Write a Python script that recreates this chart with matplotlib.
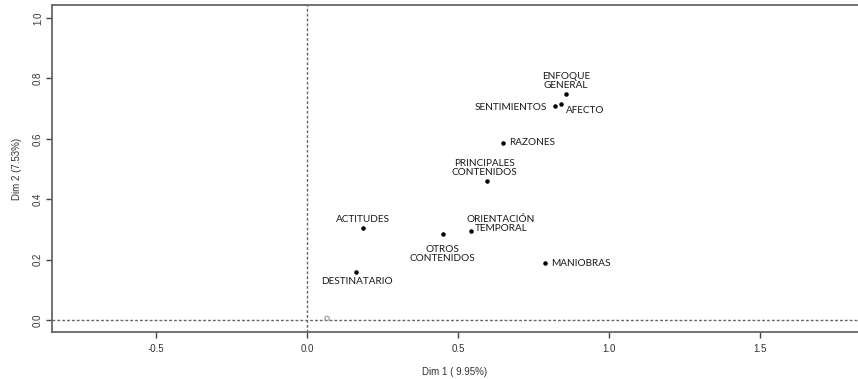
import matplotlib.pyplot as plt

# Coordenadas de las categorías en las dos primeras dimensiones
categorias = ['ENFOQUE\nGENERAL', 'AFECTO', 'SENTIMIENTOS', 'RAZONES',
              'PRINCIPALES\nCONTENIDOS', 'ACTITUDES', 'ORIENTACIÓN\nTEMPORAL',
              'OTROS\nCONTENIDOS', 'MANIOBRAS', 'DESTINATARIO']
dim1 = [0.857, 0.839, 0.820, 0.649, 0.595, 0.184, 0.542, 0.449, 0.788, 0.161]
dim2 = [0.747, 0.716, 0.708, 0.586, 0.459, 0.306, 0.294, 0.285, 0.188, 0.159]

# Variable suplementaria (círculo abierto)
sup_x = [0.066]
sup_y = [0.005]

# Desplazamiento de cada etiqueta (px) y alineación
offsets = [(0, 4), (5, -7), (-8, -1), (6, 0), (-2, 4), (0, 8), (30, 7), (0, -20), (6, 0), (1, -10)]
alineacion = [('center', 'bottom'), ('left', 'center'), ('right', 'center'), ('left', 'center'),
              ('center', 'bottom'), ('center', 'center'), ('center', 'center'),
              ('center', 'center'), ('left', 'center'), ('center', 'center')]

plt.rcParams['font.family'] = ['Liberation Sans', 'DejaVu Sans']

fig = plt.figure(figsize=(8.58, 3.79), dpi=100)
ax = fig.add_axes([52 / 858, 1 - 332 / 379, 1 - 52 / 858, (332 - 5) / 379])

ax.set_xlim(-0.845, 1.824)
ax.set_ylim(-0.04, 1.043)

ax.axhline(0, color='#666666', linestyle=(0, (2, 1.5)), linewidth=1.0, zorder=1)
ax.axvline(0, color='#666666', linestyle=(0, (2, 1.5)), linewidth=1.0, zorder=1)

ax.scatter(dim1, dim2, s=5, color='black', zorder=3)
ax.scatter(sup_x, sup_y, s=10, facecolors='none', edgecolors='#888888', linewidths=0.7, zorder=3)

for nombre, x, y, off, (ha, va) in zip(categorias, dim1, dim2, offsets, alineacion):
    ax.annotate(nombre, (x, y), xytext=off, textcoords='offset pixels',
                ha=ha, va=va, fontsize=7.2, color='#1a1a1a', family=['Lato', 'DejaVu Sans'],
                linespacing=1.0)

ax.set_xticks([-0.5, 0.0, 0.5, 1.0, 1.5])
ax.set_yticks([0.0, 0.2, 0.4, 0.6, 0.8, 1.0])
ax.set_xticklabels(['-0.5', '0.0', '0.5', '1.0', '1.5'])
ax.set_yticklabels(['0.0', '0.2', '0.4', '0.6', '0.8', '1.0'], rotation=90, va='center')
ax.tick_params(labelsize=7, colors='#444444', labelcolor='#333333', length=4, width=1)
ax.tick_params(axis='x', pad=5)
ax.tick_params(axis='y', pad=2.5)

for lado in ['left', 'bottom', 'top']:
    ax.spines[lado].set_color('#666666')
    ax.spines[lado].set_linewidth(1.3)
ax.spines['right'].set_visible(False)

ax.set_xlabel('Dim 1 ( 9.95%)', fontsize=7, color='#333333', labelpad=9)
ax.set_ylabel('Dim 2 (7.53%)', fontsize=7, color='#333333', labelpad=8)

fig.savefig('out.png', dpi=100)
